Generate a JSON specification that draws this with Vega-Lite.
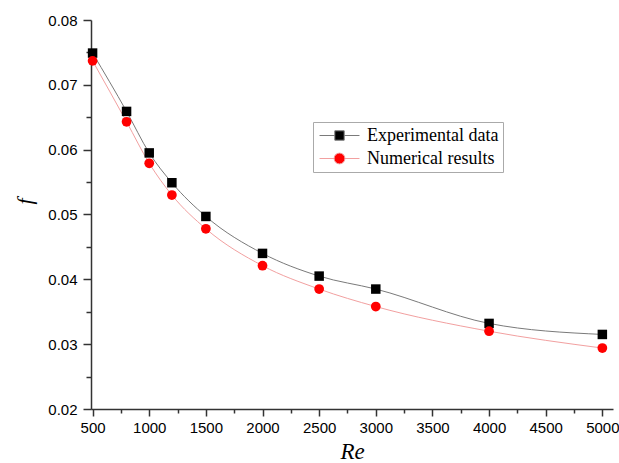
{
  "$schema": "https://vega.github.io/schema/vega-lite/v6.json",
  "width": 522,
  "height": 389,
  "autosize": {"type": "none"},
  "padding": {"left": 91, "top": 20, "right": 6, "bottom": 54},
  "background": "white",
  "config": {"view": {"stroke": null}},
  "data": {
    "values": [
      {"series": "Experimental data", "Re": 500, "f": 0.0749},
      {"series": "Experimental data", "Re": 800, "f": 0.0659},
      {"series": "Experimental data", "Re": 1000, "f": 0.0595},
      {"series": "Experimental data", "Re": 1200, "f": 0.0549},
      {"series": "Experimental data", "Re": 1500, "f": 0.0497},
      {"series": "Experimental data", "Re": 2000, "f": 0.0440},
      {"series": "Experimental data", "Re": 2500, "f": 0.0405},
      {"series": "Experimental data", "Re": 3000, "f": 0.0385},
      {"series": "Experimental data", "Re": 4000, "f": 0.0332},
      {"series": "Experimental data", "Re": 5000, "f": 0.0315},
      {"series": "Numerical results", "Re": 500, "f": 0.0737},
      {"series": "Numerical results", "Re": 800, "f": 0.0643},
      {"series": "Numerical results", "Re": 1000, "f": 0.0579},
      {"series": "Numerical results", "Re": 1200, "f": 0.0530},
      {"series": "Numerical results", "Re": 1500, "f": 0.0478},
      {"series": "Numerical results", "Re": 2000, "f": 0.0421},
      {"series": "Numerical results", "Re": 2500, "f": 0.0385},
      {"series": "Numerical results", "Re": 3000, "f": 0.0358},
      {"series": "Numerical results", "Re": 4000, "f": 0.0320},
      {"series": "Numerical results", "Re": 5000, "f": 0.0294}
    ]
  },
  "encoding": {
    "x": {
      "field": "Re", "type": "quantitative",
      "scale": {"domain": [486, 5094], "nice": false, "zero": false},
      "axis": {
        "title": "Re",
        "titleFont": "Liberation Serif", "titleFontStyle": "italic", "titleFontWeight": "normal",
        "titleFontSize": 23, "titleColor": "#000", "titlePadding": 5,
        "values": [500,750,1000,1250,1500,1750,2000,2250,2500,2750,3000,3250,3500,3750,4000,4250,4500,4750,5000],
        "format": "d",
        "labelExpr": "datum.value % 500 == 0 ? datum.label : ''",
        "labelFont": "Liberation Sans", "labelFontSize": 15, "labelColor": "#000",
        "labelPadding": 4, "labelFlush": false, "labelOverlap": false,
        "grid": false,
        "domainColor": "#333", "domainWidth": 1.5,
        "tickColor": "#333", "tickWidth": 1.5,
        "tickSize": {"condition": {"test": "datum.value % 500 == 0", "value": 7}, "value": 4}
      }
    },
    "y": {
      "field": "f", "type": "quantitative",
      "scale": {"domain": [0.02, 0.08], "nice": false, "zero": false},
      "axis": {
        "title": "f",
        "titleFont": "Liberation Serif", "titleFontStyle": "italic", "titleFontWeight": "normal",
        "titleFontSize": 22, "titleColor": "#000",
        "titleX": -67, "titleY": 181, "titleAngle": -90, "titleBaseline": "middle", "titleAlign": "center",
        "values": [0.02,0.025,0.03,0.035,0.04,0.045,0.05,0.055,0.06,0.065,0.07,0.075,0.08],
        "labelExpr": "round(datum.value*200) % 2 == 0 ? format(datum.value, '.2f') : ''",
        "labelFont": "Liberation Sans", "labelFontSize": 15, "labelColor": "#000",
        "labelPadding": 6, "labelFlush": false, "labelOverlap": false,
        "grid": false,
        "domainColor": "#333", "domainWidth": 1.5,
        "tickColor": "#333", "tickWidth": 1.5,
        "tickSize": {"condition": {"test": "round(datum.value*200) % 2 == 0", "value": 8}, "value": 5}
      }
    }
  },
  "layer": [
    {
      "mark": {"type": "line", "interpolate": "monotone", "strokeWidth": 1},
      "encoding": {
        "stroke": {
          "field": "series", "type": "nominal",
          "scale": {"domain": ["Experimental data", "Numerical results"], "range": ["#7a7a7a", "#f2a0a0"]},
          "legend": {
            "title": null,
            "orient": "none", "legendX": 222, "legendY": 102,
            "strokeColor": "#aaa", "padding": 4, "fillColor": "white",
            "labelFont": "Liberation Serif", "labelFontSize": 18, "labelColor": "#000",
            "symbolSize": 324, "symbolStrokeWidth": 1, "symbolOffset": 13, "labelOffset": 18,
            "rowPadding": 4,
            "symbolType": "M-2.22,0L2.22,0",
            "encode": {
              "symbols": {
                "update": {
                  "shape": [
                    {"test": "datum.value === 'Experimental data'", "value": "M-2.22,0L-0.52,0M0.52,0L2.22,0M-0.52,-0.52L0.52,-0.52L0.52,0.52L-0.52,0.52Z"},
                    {"value": "M-2.22,0L-0.6,0M0.6,0L2.22,0M0.6,0A0.6,0.6 0 1,1 -0.6,0A0.6,0.6 0 1,1 0.6,0Z"}
                  ],
                  "fill": [
                    {"test": "datum.value === 'Experimental data'", "value": "#000"},
                    {"value": "#ff0000"}
                  ],
                  "stroke": [
                    {"test": "datum.value === 'Experimental data'", "value": "#7a7a7a"},
                    {"value": "#f2a0a0"}
                  ],
                  "fillOpacity": {"value": 1},
                  "strokeOpacity": {"value": 1},
                  "strokeWidth": {"value": 1},
                  "opacity": {"value": 1}
                }
              }
            }
          }
        }
      }
    },
    {
      "transform": [{"filter": "datum.series === 'Experimental data'"}],
      "mark": {"type": "point", "shape": "square", "filled": true, "fill": "#000", "opacity": 1, "strokeWidth": 0, "size": 90},
      "encoding": {}
    },
    {
      "transform": [{"filter": "datum.series === 'Numerical results'"}],
      "mark": {"type": "point", "shape": "circle", "filled": true, "fill": "#ff0000", "opacity": 1, "strokeWidth": 0, "size": 95},
      "encoding": {}
    }
  ]
}
